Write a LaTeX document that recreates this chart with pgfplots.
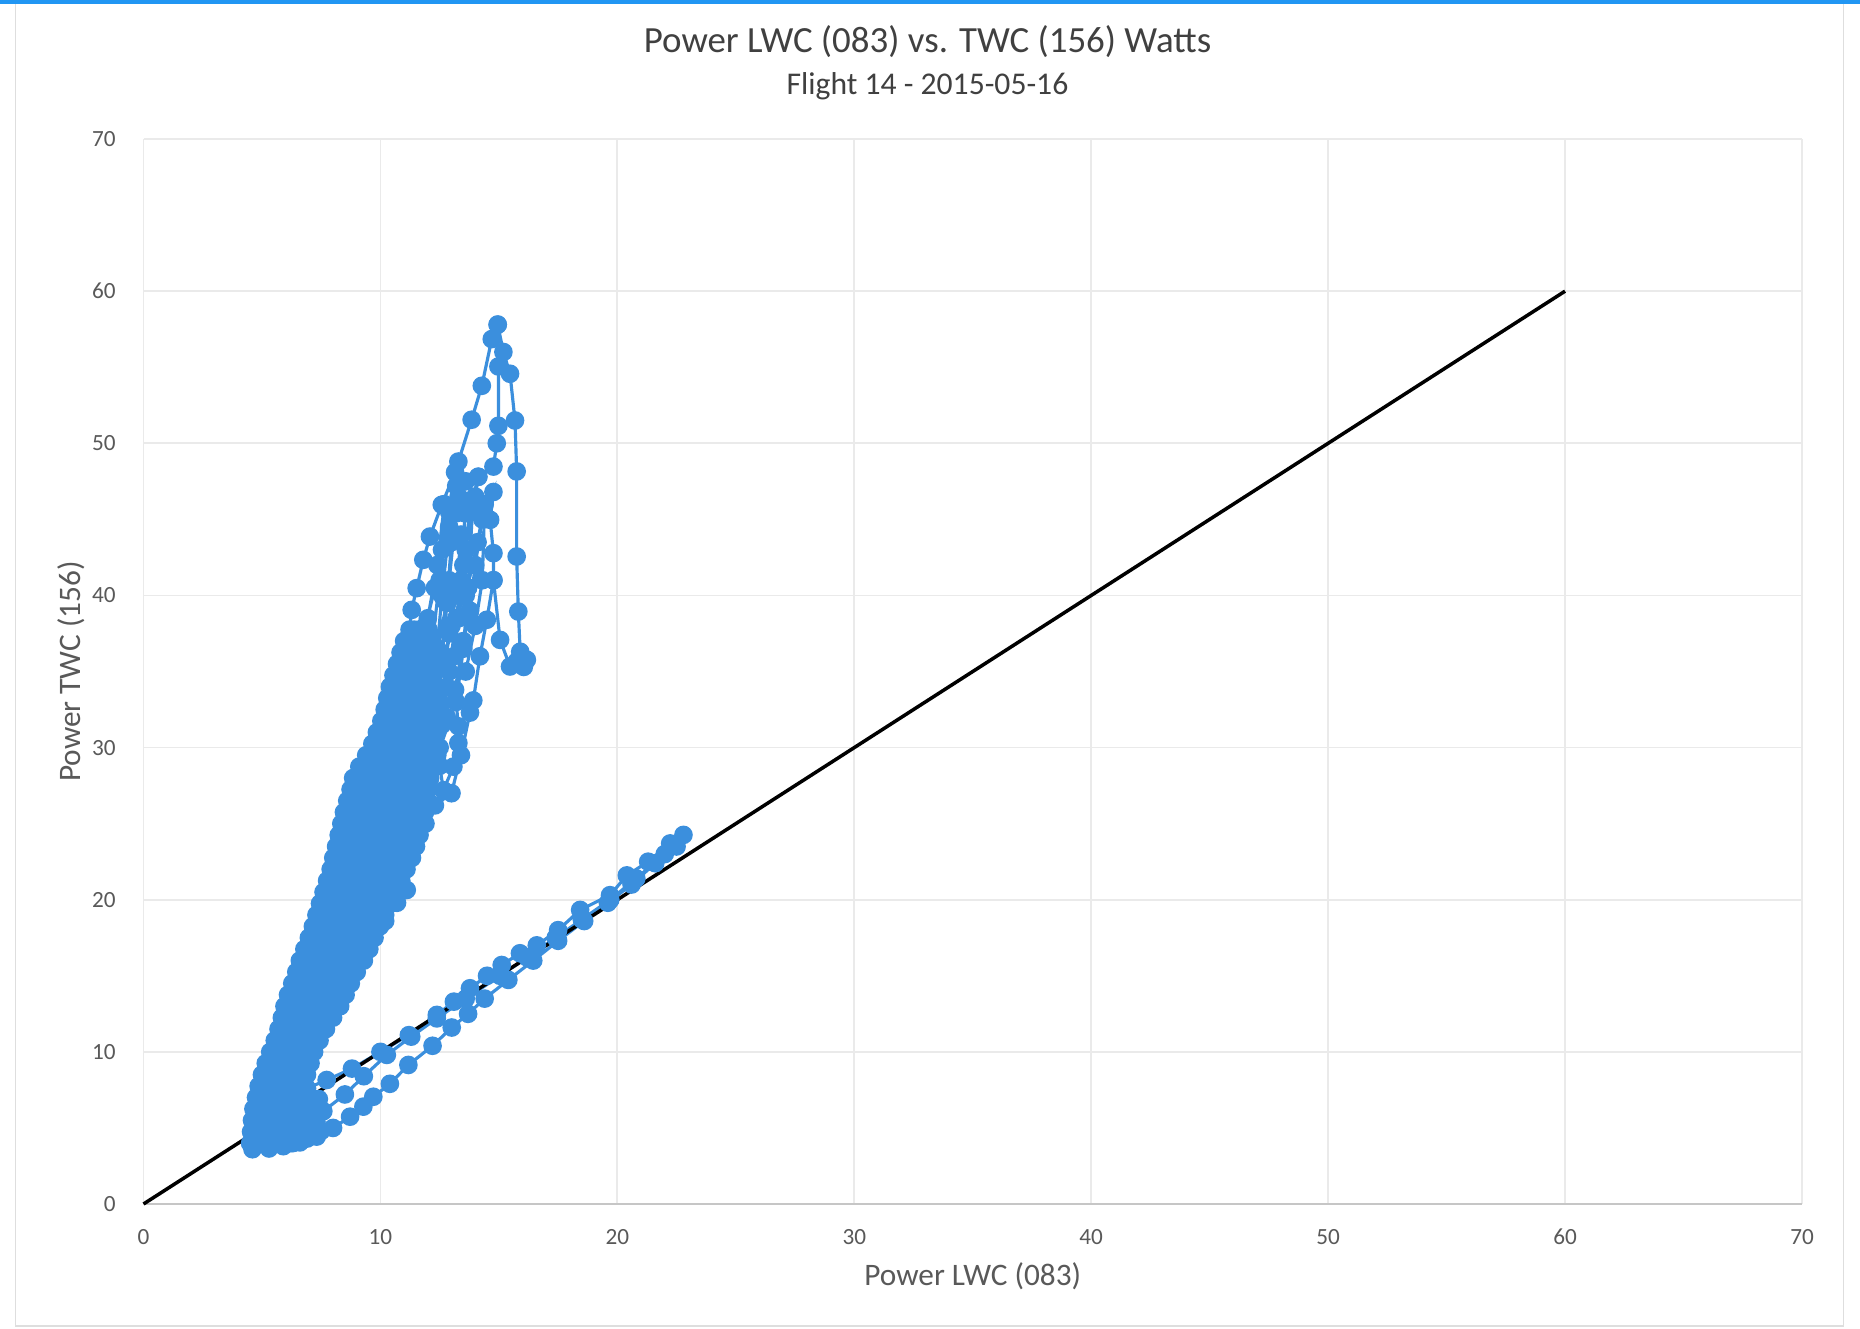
\documentclass[border=0pt]{standalone}
\usepackage{fontspec}
\setmainfont{Carlito}
\usepackage{pgfplots}
\pgfplotsset{compat=1.18}

\definecolor{ptblue}{RGB}{59,143,221}
\definecolor{txtgray}{RGB}{89,89,89}
\definecolor{titlegray}{RGB}{64,64,64}
\definecolor{gridgray}{RGB}{234,234,234}
\definecolor{framegray}{RGB}{222,222,222}
\definecolor{topbar}{RGB}{33,150,243}

\pgfplotsset{
  pts/.style={color=ptblue, line width=0.9pt, mark=*, mark size=2.2pt,
    mark options={solid, fill=ptblue, draw=ptblue}},
}

\begin{document}
\begin{tikzpicture}
% page frame (scanned chart area)
\path[use as bounding box, fill=white] (-1.435,-1.24) rectangle (17.165,12.04);
\draw[framegray, line width=0.5pt] (-1.28,12.0) -- (-1.28,-1.22) -- (17.0,-1.22) -- (17.0,12.0);
\fill[topbar] (-1.435,12.0) rectangle (17.165,12.04);

\begin{axis}[
  at={(0,0)}, anchor=south west,
  width=16.585cm, height=10.65cm, scale only axis,
  xmin=0, xmax=70, ymin=0, ymax=70,
  xtick={0,10,...,70}, ytick={0,10,...,70},
  grid=major,
  major grid style={gridgray, line width=0.5pt},
  axis x line*=bottom, axis y line*=left,
  x axis line style={draw=gray!45, line width=0.6pt, -},
  y axis line style={draw=none},
  major tick length=0pt,
  /pgf/number format/assume math mode=true,
  tick label style={font=\fontsize{6.6}{8}\selectfont, text=txtgray},
  xticklabel style={yshift=-3.6pt},
  yticklabel style={xshift=-4.4pt},
  xlabel={Power LWC (083)},
  ylabel={Power TWC (156)},
  label style={font=\fontsize{8.9}{10}\selectfont, text=txtgray},
  xlabel style={at={(axis description cs:0.5,-0.0676)}, anchor=center},
  ylabel style={at={(axis description cs:-0.0437,0.5)}, anchor=center},
  clip=false,
]

% dense main band, upward sweep
\addplot[pts] coordinates {
(4.5,4.0) (4.93,4.0) (5.35,4.0) (5.78,4.0) (6.2,4.0)
(6.28,4.75) (5.85,4.75) (5.41,4.75) (4.98,4.75) (4.54,4.75)
(4.58,5.5) (5.02,5.5) (5.47,5.5) (5.91,5.5) (6.35,5.5)
(6.45,6.25) (6.0,6.25) (5.55,6.25) (5.09,6.25) (4.64,6.25)
(4.75,7.0) (5.21,7.0) (5.68,7.0) (6.14,7.0) (6.6,7.0)
(6.75,7.75) (6.28,7.75) (5.81,7.75) (5.33,7.75) (4.86,7.75)
(5.0,8.5) (5.48,8.5) (5.95,8.5) (6.43,8.5) (6.9,8.5)
(7.05,9.25) (6.58,9.25) (6.11,9.25) (5.63,9.25) (5.16,9.25)
(5.35,10.0) (5.81,10.0) (6.28,10.0) (6.74,10.0) (7.2,10.0)
(7.43,10.75) (6.96,10.75) (6.49,10.75) (6.01,10.75) (5.54,10.75)
(5.7,11.5) (6.2,11.5) (6.7,11.5) (7.2,11.5) (7.7,11.5)
(8.0,12.25) (7.46,12.25) (6.92,12.25) (6.38,12.25) (5.84,12.25)
(5.95,13.0) (6.54,13.0) (7.13,13.0) (7.71,13.0) (8.3,13.0)
(8.53,13.75) (7.92,13.75) (7.31,13.75) (6.71,13.75) (6.1,13.75)
(6.28,14.5) (6.9,14.5) (7.52,14.5) (8.13,14.5) (8.75,14.5)
(9.0,15.25) (8.36,15.25) (7.73,15.25) (7.09,15.25) (6.45,15.25)
(6.6,16.0) (7.28,16.0) (7.95,16.0) (8.63,16.0) (9.3,16.0)
(9.53,16.75) (8.84,16.75) (8.16,16.75) (7.47,16.75) (6.79,16.75)
(6.98,17.5) (7.67,17.5) (8.37,17.5) (9.06,17.5) (9.75,17.5)
(9.98,18.25) (9.27,18.25) (8.57,18.25) (7.86,18.25) (7.15,18.25)
(7.3,19.0) (8.03,19.0) (8.75,19.0) (9.48,19.0) (10.2,19.0)
(10.43,19.75) (9.68,19.75) (8.94,19.75) (8.19,19.75) (7.45,19.75)
(7.6,20.5) (8.36,20.5) (9.13,20.5) (9.89,20.5) (10.65,20.5)
(10.88,21.25) (10.1,21.25) (9.32,21.25) (8.53,21.25) (7.75,21.25)
(7.9,22.0) (8.7,22.0) (9.5,22.0) (10.3,22.0) (11.1,22.0)
(11.33,22.75) (10.5,22.75) (9.67,22.75) (8.84,22.75) (8.01,22.75)
(8.13,23.5) (8.97,23.5) (9.82,23.5) (10.66,23.5) (11.5,23.5)
(11.65,24.25) (10.8,24.25) (9.95,24.25) (9.09,24.25) (8.24,24.25)
(8.35,25.0) (9.21,25.0) (10.08,25.0) (10.94,25.0) (11.8,25.0)
(11.88,25.75) (11.03,25.75) (10.17,25.75) (9.32,25.75) (8.46,25.75)
(8.6,26.5) (9.44,26.5) (10.28,26.5) (11.11,26.5) (11.95,26.5)
(12.03,27.25) (11.21,27.25) (10.39,27.25) (9.56,27.25) (8.74,27.25)
(8.85,28.0) (9.66,28.0) (10.48,28.0) (11.29,28.0) (12.1,28.0)
(12.18,28.75) (11.41,28.75) (10.65,28.75) (9.88,28.75) (9.11,28.75)
(9.4,29.5) (10.1,29.5) (10.8,29.5) (11.5,29.5) (12.2,29.5)
(12.2,30.25) (11.57,30.25) (10.93,30.25) (10.3,30.25) (9.66,30.25)
(9.85,31.0) (10.44,31.0) (11.03,31.0) (11.61,31.0) (12.2,31.0)
(12.2,31.75) (11.66,31.75) (11.12,31.75) (10.58,31.75) (10.04,31.75)
(10.18,32.5) (10.69,32.5) (11.19,32.5) (11.7,32.5) (12.2,32.5)
(12.2,33.25) (11.72,33.25) (11.25,33.25) (10.77,33.25) (10.29,33.25)
(10.4,34.0) (10.85,34.0) (11.3,34.0) (11.75,34.0) (12.2,34.0)
(12.2,34.75) (11.79,34.75) (11.38,34.75) (10.96,34.75) (10.55,34.75)
(10.7,35.5) (11.08,35.5) (11.45,35.5) (11.83,35.5) (12.2,35.5)
(12.18,36.25) (11.85,36.25) (11.52,36.25) (11.18,36.25) (10.85,36.25)
(11.0,37.0) (11.28,37.0) (11.55,37.0) (11.83,37.0) (12.1,37.0)
(12.03,37.75) (11.83,37.75) (11.63,37.75) (11.43,37.75) (11.23,37.75)
(11.32,39.05) (11.53,40.48) (11.81,42.34) (12.09,43.87) (12.59,45.96)
(13.15,48.1) (13.29,48.8) (13.85,51.55) (14.28,53.78) (14.70,56.85)
(14.95,57.8) (14.98,55.05) (14.98,51.15) (14.91,50.0) (14.77,48.47)
(14.13,47.8) (13.78,45.6) (13.5,42.0) (13.2,38.5) (12.9,35.0)
(12.6,31.5) (12.5,28.8) (12.66,27.2) (13.08,28.75) (13.29,30.3)
(13.29,31.4) (13.15,33.8) (13.5,37.0) (13.78,39.0) (14.0,42.0)
(14.3,45.0) (14.77,46.8) (14.63,44.97) (14.77,42.78) (14.77,41.0)
(14.49,38.4) (14.2,36.0) (13.92,33.1) (13.78,32.3) (13.4,29.5)
(13.0,27.0) (12.3,26.2) (11.9,25.0) (11.53,24.6) (11.2,23.6)
(10.9,22.0) (11.11,20.64) (10.7,19.8) (10.2,18.6)
};

% dense main band, downward sweep
\addplot[pts] coordinates {
(11.23,37.375) (11.47,37.375) (11.70,37.375) (11.94,37.375)
(11.99,36.625) (11.68,36.625) (11.38,36.625) (11.08,36.625)
(10.95,35.875) (11.31,35.875) (11.67,35.875) (12.02,35.875)
(12.0,35.125) (11.61,35.125) (11.22,35.125) (10.82,35.125)
(10.69,34.375) (11.12,34.375) (11.55,34.375) (11.98,34.375)
(11.97,33.625) (11.5,33.625) (11.04,33.625) (10.57,33.625)
(10.48,32.875) (10.97,32.875) (11.46,32.875) (11.95,32.875)
(11.94,32.125) (11.42,32.125) (10.9,32.125) (10.38,32.125)
(10.22,31.375) (10.79,31.375) (11.35,31.375) (11.92,31.375)
(11.9,30.625) (11.29,30.625) (10.68,30.625) (10.07,30.625)
(9.88,29.875) (10.54,29.875) (11.21,29.875) (11.87,29.875)
(11.83,29.125) (11.09,29.125) (10.36,29.125) (9.62,29.125)
(9.38,28.375) (10.17,28.375) (10.96,28.375) (11.75,28.375)
(11.65,27.625) (10.83,27.625) (10.02,27.625) (9.2,27.625)
(9.09,26.875) (9.92,26.875) (10.75,26.875) (11.58,26.875)
(11.49,26.125) (10.64,26.125) (9.8,26.125) (8.95,26.125)
(8.84,25.375) (9.7,25.375) (10.55,25.375) (11.41,25.375)
(11.3,24.625) (10.44,24.625) (9.58,24.625) (8.72,24.625)
(8.6,23.875) (9.45,23.875) (10.3,23.875) (11.15,23.875)
(11.01,23.125) (10.17,23.125) (9.33,23.125) (8.49,23.125)
(8.37,22.375) (9.18,22.375) (9.99,22.375) (10.8,22.375)
(10.6,21.625) (9.81,21.625) (9.02,21.625) (8.22,21.625)
(8.06,20.875) (8.83,20.875) (9.6,20.875) (10.37,20.875)
(10.16,20.125) (9.41,20.125) (8.66,20.125) (7.9,20.125)
(7.74,19.375) (8.48,19.375) (9.21,19.375) (9.95,19.375)
(9.73,18.625) (9.02,18.625) (8.3,18.625) (7.59,18.625)
(7.42,17.875) (8.12,17.875) (8.81,17.875) (9.51,17.875)
(9.3,17.125) (8.61,17.125) (7.92,17.125) (7.23,17.125)
(7.03,16.375) (7.71,16.375) (8.39,16.375) (9.07,16.375)
(8.82,15.625) (8.17,15.625) (7.51,15.625) (6.86,15.625)
(6.68,14.875) (7.3,14.875) (7.93,14.875) (8.55,14.875)
(8.33,14.125) (7.72,14.125) (7.1,14.125) (6.49,14.125)
(6.33,13.375) (6.92,13.375) (7.52,13.375) (8.11,13.375)
(7.87,12.625) (7.3,12.625) (6.74,12.625) (6.17,12.625)
(6.04,11.875) (6.56,11.875) (7.07,11.875) (7.59,11.875)
(7.31,11.125) (6.83,11.125) (6.35,11.125) (5.87,11.125)
(5.67,10.375) (6.14,10.375) (6.61,10.375) (7.08,10.375)
(6.9,9.625) (6.43,9.625) (5.96,9.625) (5.49,9.625)
(5.32,8.875) (5.79,8.875) (6.27,8.875) (6.74,8.875)
(6.59,8.125) (6.12,8.125) (5.64,8.125) (5.17,8.125)
(5.04,7.375) (5.51,7.375) (5.98,7.375) (6.45,7.375)
(6.3,6.625) (5.84,6.625) (5.38,6.625) (4.92,6.625)
(4.82,5.875) (5.27,5.875) (5.72,5.875) (6.17,5.875)
(6.09,5.125) (5.65,5.125) (5.22,5.125) (4.78,5.125)
(4.74,4.375) (5.17,4.375) (5.6,4.375) (6.03,4.375)
};

% right-hand loop from the peak
\addplot[pts] coordinates {
(14.95,57.8) (15.19,56.0) (15.47,54.57) (15.68,51.5) (15.75,48.15)
(15.75,42.56) (15.82,38.94) (15.9,36.3) (15.75,35.65) (16.18,35.77)
(16.05,35.3) (15.47,35.33) (15.05,37.08) (14.77,41.0)
};

% strands in the upper cluster
\addplot[pts] coordinates {
(12.3,30.0) (12.6,36.0) (12.9,41.0) (13.2,45.4) (13.57,45.4)
(13.4,41.0) (13.1,36.0) (12.8,32.0) (12.5,30.0) (12.8,34.0)
(13.3,38.5) (13.6,43.0) (13.9,46.0) (13.7,40.5) (13.5,36.5)
(13.2,33.0) (12.4,29.5) (12.0,38.5) (12.4,42.0) (12.7,46.0)
(12.5,41.0) (12.2,37.0) (12.0,34.0) (12.4,36.5) (12.8,39.5)
(13.0,43.5) (13.3,46.5) (14.0,46.5) (14.13,47.8) (13.6,47.5)
(13.2,47.2) (12.9,44.5) (12.6,40.0) (12.3,35.0) (12.5,33.0)
(11.9,38.0) (12.3,40.5) (12.6,43.0) (12.9,45.5) (13.4,44.0)
(13.2,40.0) (12.9,37.5) (12.7,35.5) (13.0,38.0) (13.6,40.0)
(14.1,43.5) (14.4,46.0) (14.3,41.0) (14.0,38.0) (13.6,35.0)
};

% lower branch: out and back along the diagonal
\addplot[pts] coordinates {
(4.6,3.6) (5.3,3.65) (5.9,3.8) (6.6,4.05) (7.31,4.43)
(8.0,5.0) (8.72,5.74) (9.28,6.4) (9.7,7.05) (10.4,7.9)
(11.18,9.14) (12.2,10.4) (13.01,11.6) (13.7,12.5) (14.4,13.5)
(15.4,14.73) (16.45,16.0) (17.5,17.3) (18.6,18.6) (19.6,19.8)
(20.6,21.0) (21.6,22.4) (22.5,23.5) (22.79,24.26)
(22.23,23.7) (21.3,22.5) (20.4,21.6) (19.69,20.3) (18.43,19.33)
(17.5,18.0) (16.6,17.0) (15.89,16.48) (15.12,15.71) (14.5,15.0)
(13.78,14.18) (13.1,13.3) (12.38,12.43) (11.2,11.1) (10.0,10.0)
(8.8,8.9) (7.73,8.15) (6.9,7.6) (6.2,7.3)
};

% fill between band and lower curve, then the middle line
\addplot[pts] coordinates {
(6.3,4.0) (6.9,4.3) (7.5,4.8) (7.1,5.1) (6.6,4.7)
(6.6,5.6) (7.2,6.2) (6.8,6.6) (7.4,6.9) (7.0,5.5)
(6.5,4.2) (7.0,4.7) (6.7,5.3) (7.3,5.4) (7.0,6.0)
(6.4,5.0) (7.0,5.5) (7.59,6.1) (8.5,7.2) (9.3,8.4)
(10.27,9.8) (11.3,11.0) (12.38,12.2) (13.6,13.5) (15.05,15.0)
(16.2,16.2) (17.4,17.5) (18.5,18.7) (19.7,20.0) (20.8,21.4)
(22.0,23.0)
};

% 1:1 reference line
\addplot[black, line width=1.0pt, no marks] coordinates {(0,0) (60,60)};
\end{axis}

\node[font=\fontsize{10.5}{12}\selectfont, text=titlegray, anchor=center]
  at (7.84,11.625) {Power LWC (083) vs. TWC (156) Watts};
\node[font=\fontsize{9}{10}\selectfont, text=titlegray, anchor=center]
  at (7.84,11.18) {Flight 14 - 2015-05-16};
\end{tikzpicture}
\end{document}
